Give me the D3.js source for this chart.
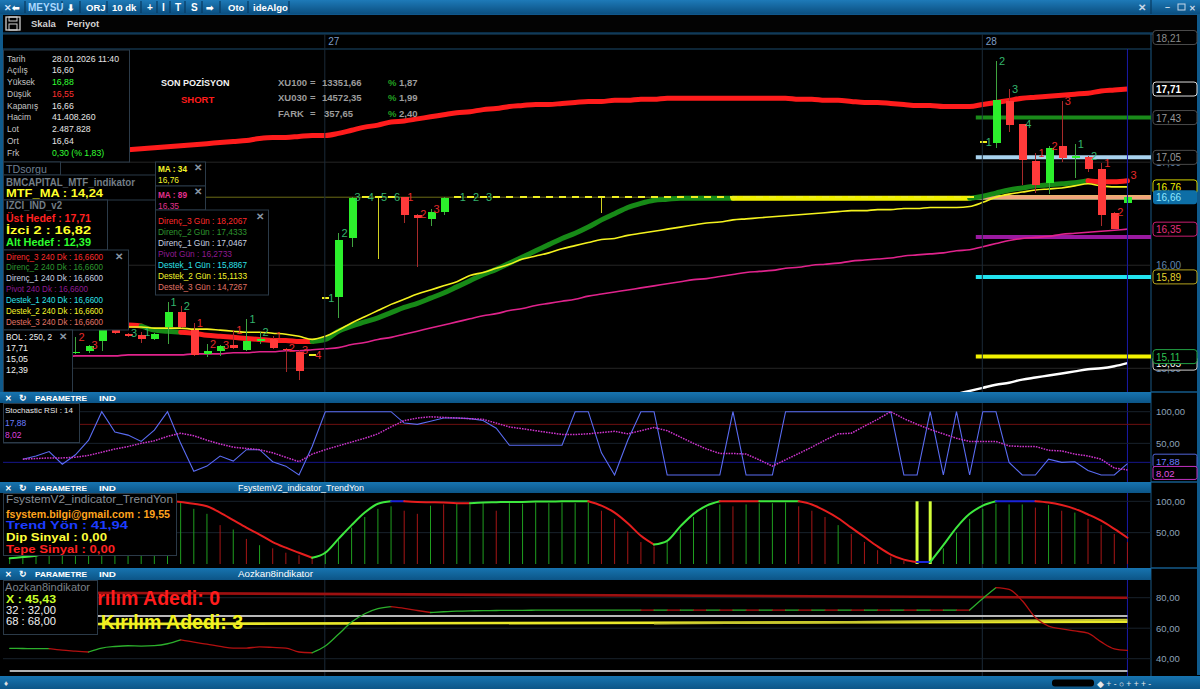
<!DOCTYPE html>
<html lang="tr">
<head>
<meta charset="utf-8">
<title>MEYSU 10 dk</title>
<script src="https://cdn.jsdelivr.net/npm/d3@7/dist/d3.min.js"></script>
<style>
  html, body { margin: 0; padding: 0; background: #000; overflow: hidden; }
  svg { display: block; }
  text { font-family: "Liberation Sans", Arial, sans-serif; }
</style>
</head>
<body>
<svg id="chart" width="1200" height="689"></svg>
<script>
// ---------------- 10 dk bars (26 Oca partial, 27 Oca, 28 Oca until 11:40) ----------------
const openP = [
  null,null,null,null,null,15.15,15.17,15.26,15.38,15.33,
  15.32,15.28,15.40,15.55,15.37,15.14,15.17,15.23,15.18,15.27,
  15.28,15.19,15.16,15.13,15.68,15.69,16.26,16.66,16.66,16.66,
  16.66,16.49,16.45,16.52,16.66,16.66,16.66,16.66,16.66,16.66,
  16.66,16.66,16.66,16.66,16.66,16.66,16.66,16.66,16.66,16.66,
  16.66,16.66,16.66,16.66,16.66,16.66,16.66,16.66,16.66,16.66,
  16.66,16.66,16.66,16.66,16.66,16.66,16.66,16.66,16.66,16.66,
  16.66,16.66,16.66,16.66,17.20,17.19,17.59,17.37,17.01,16.80,
  17.16,17.04,17.05,16.93,16.51,16.60];
const highP = [
  null,null,null,null,null,15.30,15.23,15.39,15.39,15.34,
  15.35,15.34,15.64,15.60,15.44,15.24,15.23,15.37,15.48,15.35,
  15.31,15.20,15.18,15.13,15.68,16.31,16.66,16.66,16.66,16.66,
  16.66,16.50,16.55,16.66,16.66,16.66,16.66,16.66,16.66,16.66,
  16.66,16.66,16.66,16.66,16.66,16.66,16.66,16.66,16.66,16.66,
  16.66,16.66,16.66,16.66,16.66,16.66,16.66,16.66,16.66,16.66,
  16.66,16.66,16.66,16.66,16.66,16.66,16.66,16.66,16.66,16.66,
  16.66,16.66,16.66,16.66,17.20,17.98,17.71,17.37,17.09,17.16,
  17.59,17.18,17.06,16.99,16.52,16.88];
const lowP = [
  null,null,null,null,null,15.14,15.15,15.17,15.33,15.30,
  15.25,15.27,15.24,15.39,15.12,15.11,15.12,15.19,15.17,15.24,
  15.19,14.96,14.89,15.13,15.68,15.49,16.18,16.66,16.06,16.66,
  16.41,15.98,16.38,16.49,16.66,16.66,16.66,16.66,16.66,16.66,
  16.66,16.66,16.66,16.66,16.66,16.51,16.66,16.66,16.66,16.66,
  16.66,16.66,16.66,16.66,16.66,16.66,16.66,16.66,16.66,16.66,
  16.66,16.66,16.66,16.66,16.66,16.66,16.66,16.66,16.66,16.66,
  16.66,16.66,16.66,16.66,17.20,17.14,17.29,16.78,16.70,16.69,
  17.00,16.85,16.90,16.38,16.35,16.55];
const closeP = [
  null,null,null,null,null,15.16,15.22,15.38,15.34,15.31,
  15.28,15.33,15.55,15.40,15.13,15.17,15.22,15.20,15.26,15.28,
  15.20,15.18,14.97,15.13,15.68,16.24,16.65,16.66,16.66,16.66,
  16.49,16.46,16.52,16.65,16.66,16.66,16.66,16.66,16.66,16.66,
  16.66,16.66,16.66,16.66,16.66,16.66,16.66,16.66,16.66,16.66,
  16.66,16.66,16.66,16.66,16.66,16.66,16.66,16.66,16.66,16.66,
  16.66,16.66,16.66,16.66,16.66,16.66,16.66,16.66,16.66,16.66,
  16.66,16.66,16.66,16.66,17.20,17.60,17.36,17.02,16.78,17.14,
  17.04,17.06,16.93,16.49,16.35,16.66];
const dayStarts = [24, 74];
const dayLabels = ["27", "28"];

// Bollinger (250, 2) upper band / middle band (middle enters the visible range late on the 28th)
const bolUpper = [
  17.09,17.09,17.09,17.10,17.10,17.10,17.11,17.11,17.11,17.12,
  17.13,17.14,17.15,17.16,17.17,17.18,17.19,17.20,17.21,17.23,
  17.24,17.24,17.25,17.26,17.26,17.28,17.31,17.34,17.36,17.39,
  17.40,17.42,17.44,17.46,17.48,17.49,17.51,17.52,17.54,17.55,
  17.56,17.56,17.57,17.58,17.59,17.59,17.60,17.60,17.61,17.61,
  17.62,17.62,17.62,17.62,17.62,17.62,17.62,17.62,17.62,17.62,
  17.61,17.61,17.60,17.60,17.59,17.58,17.58,17.57,17.56,17.55,
  17.55,17.54,17.54,17.54,17.56,17.58,17.60,17.62,17.63,17.64,
  17.65,17.66,17.67,17.69,17.70,17.71];
const bolMidFrom = 72;
const bolMid = [14.75,14.78,14.81,14.84,14.86,14.89,14.91,14.93,14.95,14.97,14.99,15.00,15.02,15.05];

// IZCI "Izci 2" trail and its colour runs (r = down, g = up, y = flat)
const izci = [
  15.42,15.42,15.42,15.42,15.42,15.42,15.42,15.42,15.42,15.42,
  15.41,15.37,15.36,15.35,15.34,15.32,15.31,15.30,15.29,15.28,
  15.27,15.27,15.26,15.26,15.28,15.36,15.41,15.45,15.49,15.54,
  15.59,15.63,15.68,15.73,15.79,15.85,15.91,15.96,16.02,16.08,
  16.14,16.20,16.26,16.31,16.37,16.44,16.50,16.56,16.60,16.63,
  16.64,16.65,16.65,16.65,16.65,16.65,16.65,16.65,16.65,16.65,
  16.65,16.65,16.65,16.65,16.65,16.65,16.65,16.65,16.65,16.65,
  16.65,16.65,16.65,16.65,16.67,16.70,16.73,16.75,16.77,16.78,
  16.79,16.80,16.82,16.81,16.81,16.82];
const izciRuns = [[11,"r"],[3,"g"],[10,"r"],[32,"g"],[18,"y"],[9,"g"],[3,"r"]];

// moving averages
const ma34 = [
  15.40,15.40,15.40,15.40,15.40,15.40,15.40,15.40,15.40,15.40,
  15.40,15.39,15.39,15.39,15.38,15.38,15.37,15.36,15.35,15.35,
  15.34,15.33,15.31,15.28,15.31,15.37,15.44,15.50,15.56,15.62,
  15.67,15.72,15.76,15.80,15.84,15.90,15.93,15.97,16.01,16.06,
  16.09,16.12,16.16,16.19,16.22,16.25,16.26,16.29,16.31,16.33,
  16.35,16.37,16.39,16.41,16.42,16.44,16.45,16.46,16.47,16.48,
  16.49,16.50,16.51,16.52,16.53,16.53,16.54,16.54,16.55,16.55,
  16.56,16.56,16.56,16.57,16.61,16.66,16.69,16.71,16.73,16.74,
  16.75,16.77,16.79,16.77,16.76,16.76];
const ma89 = [
  15.10,15.10,15.10,15.11,15.11,15.12,15.12,15.12,15.12,15.13,
  15.13,15.13,15.13,15.13,15.14,15.14,15.14,15.15,15.15,15.16,
  15.16,15.17,15.17,15.18,15.19,15.20,15.23,15.25,15.28,15.30,
  15.33,15.36,15.39,15.42,15.45,15.48,15.51,15.53,15.56,15.58,
  15.61,15.63,15.65,15.67,15.70,15.72,15.74,15.76,15.78,15.80,
  15.82,15.84,15.86,15.87,15.89,15.91,15.93,15.94,15.95,15.97,
  15.98,16.00,16.01,16.02,16.04,16.05,16.06,16.07,16.09,16.10,
  16.11,16.12,16.14,16.15,16.18,16.21,16.24,16.26,16.27,16.28,
  16.30,16.31,16.32,16.33,16.34,16.35];

// TD counts: bar index, digit, colour
const tdIdx = [5,6,9,10,12,13,14,15,16,17,18,19,20,21,22,23,24,25,26,27,28,29,30,31,32,34,35,36,74,75,76,77,78,79,80,81,82,83,84,85];
const tdTxt = ["2","3","3","1","1","2","1","2","3","1","1","2","1","2","3","4","1","2","3","4","5","6","1","2","3","1","2","3","1","2","3","4","1","2","3","1","2","1","2","3"];
const tdCol = ["r","r","g","g","g","g","r","r","r","r","g","g","r","r","r","r","g","g","g","g","g","g","r","r","r","g","g","g","g","g","g","g","r","r","r","g","g","r","r","r"];

// daily pivot levels (Gün) and 240 dk levels
const gunNames  = ["Direnç_3 Gün","Direnç_2 Gün","Direnç_1 Gün","Pivot Gün","Destek_1 Gün","Destek_2 Gün","Destek_3 Gün"];
const gunValues = [18.2067,17.4333,17.0467,16.2733,15.8867,15.1133,14.7267];
const dkNames   = ["Direnç_3 240 Dk","Direnç_2 240 Dk","Direnç_1 240 Dk","Pivot 240 Dk","Destek_1 240 Dk","Destek_2 240 Dk","Destek_3 240 Dk"];
const dkValues  = [16.66,16.66,16.66,16.66,16.66,16.66,16.66];

// Stochastic RSI 14
const stochK = [
  null,25,30,37,17,32,55,100,68,63,
  53,71,100,50,6,14,30,22,40,40,
  21,14,0,45,100,100,100,100,100,100,
  82,80,85,90,90,89,86,74,47,47,
  47,47,47,100,100,35,0,55,100,100,
  0,0,0,0,0,100,0,0,0,100,
  100,100,100,100,100,100,100,100,0,0,
  100,0,100,0,100,100,20,0,0,25,
  20,21,7,0,0,17.88];
const stochD = [
  null,25,26,27,27,28,31,36,41,45,
  50,54,61,66,62,55,49,44,42,40,
  35,28,21,33,40,46,52,58,65,76,
  86,90,92,91,90,89,88,82,76,73,
  70,67,64,64,65,67,69,65,70,75,
  70,60,50,41,34,34,33,24,14,24,
  34,44,55,65,66,77,88,100,89,80,
  72,65,58,53,53,53,46,45,45,39,
  38,33,30,25,11,8.02];
const stochLevels = [80, 20];

// FsystemV2 TrendYon
const trend = [
  9,11,13,20,32,46,60,72,82,90,
  95,98,100,99,96,92,82,70,58,47,
  35,26,18,10,18,40,62,82,96,100,
  100,99,98.5,98,97,97,98,98.5,99,99,
  99.5,99.5,100,100,100,93,82,65,45,31,
  37,60,80,93,100,100,100,100,100,100,
  100,95,85,73,58,43,28,15,7,3,
  3,30,58,80,93,100,100,100,100,98,
  94,88,79,69,56,41.94];
const trendRuns = [[13,"g"],[11,"r"],[6,"g"],[1,"b"],[5,"r"],[9,"g"],[5,"r"],[5,"g"],[3,"r"],[3,"g"],[9,"r"],[1,"b"],[5,"g"],[3,"b"],[7,"r"]];
const trendHist = [
  8,10,12,18,30,44,58,70,80,88,
  93,96,98,98,88,80,62,55,40,30,
  25,18,14,10,20,38,58,75,88,92,
  85,80,93,95,96,95,97,85,97,96,
  98,97,98,97,98,85,72,52,35,28,
  35,55,75,88,95,92,95,97,97,98,
  92,85,75,62,48,35,22,12,5,100,
  100,25,50,72,88,96,95,95,90,94,
  85,82,72,62,48,35];
const histRuns = [[16,"g"],[1,"r"],[1,"g"],[1,"r"],[1,"g"],[4,"r"],[6,"g"],[2,"r"],[1,"g"],[1,"r"],[3,"g"],[1,"r"],[7,"g"],[5,"r"],[5,"g"],[1,"r"],[4,"g"],[3,"r"],[1,"g"],[5,"r"],[2,"y"],[7,"g"],[1,"r"],[1,"g"],[1,"r"],[1,"g"],[4,"r"]];

// Aozkan8indikator
const aozX = [
  46.8,46.7,46.6,46.6,45.6,45.0,44.4,47.0,48.0,48.5,
  48.3,48.6,49.8,52.3,50.8,49.5,48.1,46.9,47.0,47.7,
  47.4,47.0,44.4,43.9,48.3,56.0,64.0,69.5,72.8,74.1,
  73.0,71.6,70.3,70.8,71.2,71.4,71.5,71.6,71.7,71.7,
  71.8,71.9,71.9,71.9,71.9,71.9,71.9,71.9,71.9,71.9,
  71.9,71.9,71.9,71.9,71.9,71.9,71.9,71.9,71.9,71.9,
  71.9,71.9,71.9,71.9,71.9,71.9,71.9,71.9,71.9,71.9,
  71.9,71.9,71.9,71.9,79.5,86.6,85.5,78.0,67.0,61.4,
  59.5,58.2,56.7,51.0,46.5,45.43];
const aozRuns = [[4,"g"],[3,"r"],[7,"g"],[10,"r"],[6,"g"],[3,"r"],[16,"g"],[25,"rg"],[2,"g"],[10,"r"]];
const aozUpper = [83.4, 80.0];          // first / last bar
const aozLower = [62.6, 64.3];          // first / last bar
const aozLower2From = 49;
const aozLower2 = [63.0, 65.6];
const aozBands = [68, 32];

// ---------------- geometry & scales ----------------
const PL = 3, PR = 1151;
const MAIN = {top: 49, bottom: 392};
const STO  = {top: 403, bottom: 482};
const FSY  = {top: 493, bottom: 567};
const AOZ  = {top: 580, bottom: 676};

const x  = d3.scaleLinear().domain([0, 85]).range([9.7, 1127.45]);
const y  = d3.scaleLinear().domain([14.76, 18.21]).range([393, 37.5]);
const yS = d3.scaleLinear().domain([0, 100]).range([475, 411.7]);
const yF = d3.scaleLinear().domain([0, 100]).range([564, 501.3]);
const yA = d3.scaleLinear().domain([40, 80]).range([658.7, 597.7]);

const trLocale = d3.formatLocale({decimal: ",", thousands: ".", grouping: [3], currency: ["", "₺"]});
const f2 = trLocale.format(".2f");

const svg = d3.select("#chart");
const defs = svg.append("defs");

function grad(id, c1, c2) {
  const g = defs.append("linearGradient").attr("id", id).attr("x1", 0).attr("y1", 0).attr("x2", 0).attr("y2", 1);
  g.append("stop").attr("offset", "0%").attr("stop-color", c1);
  g.append("stop").attr("offset", "100%").attr("stop-color", c2);
}
grad("gBar", "#1e7ab8", "#0b4f80");
grad("gHead", "#1774b0", "#0c5587");

function clip(id, r) {
  defs.append("clipPath").attr("id", id).append("rect")
    .attr("x", PL).attr("y", r.top).attr("width", PR - PL).attr("height", r.bottom - r.top);
}
clip("cMain", MAIN); clip("cSto", STO); clip("cFsy", FSY); clip("cAoz", AOZ);

function T(g, px, py, s, o = {}) {
  const t = g.append("text").attr("x", px).attr("y", py).text(s)
    .attr("fill", o.fill || "#dcdcdc")
    .attr("font-size", o.size || 9)
    .attr("font-weight", o.bold ? 700 : 400);
  if (o.anchor) t.attr("text-anchor", o.anchor);
  if (o.family) t.attr("font-family", o.family);
  if (o.len) t.attr("textLength", o.len).attr("lengthAdjust", "spacingAndGlyphs");
  return t;
}
function R(g, px, py, w, h, fill, stroke, sw) {
  return g.append("rect").attr("x", px).attr("y", py).attr("width", w).attr("height", h)
    .attr("fill", fill || "none").attr("stroke", stroke || "none").attr("stroke-width", sw || 1);
}
function HL(g, x1, x2, py, col, w) {
  return g.append("line").attr("x1", x1).attr("x2", x2).attr("y1", py).attr("y2", py)
    .attr("stroke", col).attr("stroke-width", w || 1);
}
function VL(g, px, y1, y2, col, w) {
  return g.append("line").attr("x1", px).attr("x2", px).attr("y1", y1).attr("y2", y2)
    .attr("stroke", col).attr("stroke-width", w || 1);
}
function expandRuns(runs) {
  const out = [];
  runs.forEach(([n, pat]) => { for (let k = 0; k < n; k++) out.push(pat[k % pat.length]); });
  return out;
}
// draws a series whose segment i-1 -> i takes the colour code of bar i
function colouredLine(g, vals, codes, palette, ys, width, curve) {
  const line = d3.line().x(d => x(d[0])).y(d => ys(d[1])).curve(curve || d3.curveLinear);
  let start = 1;
  for (let i = 2; i <= vals.length; i++) {
    if (i === vals.length || codes[i] !== codes[start]) {
      const pts = d3.range(start - 1, i).map(k => [k, vals[k]]);
      g.append("path").attr("d", line(pts)).attr("fill", "none")
        .attr("stroke", palette[codes[start]]).attr("stroke-width", width)
        .attr("stroke-linejoin", "round").attr("stroke-linecap", "round");
      start = i;
    }
  }
}
function closeMark(g, px, py) { T(g, px, py, "✕", {fill: "#8896a4", size: 10, bold: true, family: "DejaVu Sans"}); }

// ---------------- background & frame ----------------
R(svg, 0, 0, 1200, 689, "#000");

// toolbar
R(svg, 0, 0, 1200, 14, "url(#gBar)");
const tb = svg.append("g");
[25, 62, 80, 107, 141, 157, 170, 185, 202, 220, 248, 289].forEach(sx => VL(tb, sx, 1, 13, "#073a60", 1.2));
const tbItems = [
  ["✕", 4, "#cfe6ff", 9], ["⬅", 12, "#ffffff", 9], ["MEYSU", 28, "#a9d8ff", 10],
  ["⬇", 67, "#ffffff", 9], ["ORJ", 86, "#ffffff", 9.5], ["10 dk", 112, "#ffffff", 9.5],
  ["+", 147, "#ffffff", 10], ["I", 162, "#ffffff", 10], ["T", 175, "#ffffff", 10],
  ["S", 191, "#ffffff", 10], ["➡", 206, "#ffffff", 9], ["Oto", 228, "#ffffff", 9.5], ["ideAlgo", 253, "#ffffff", 9.5]
];
tbItems.forEach(([s, px, c, fs]) => T(tb, px, 11, s, {fill: c, size: fs, bold: true, family: "DejaVu Sans, Liberation Sans"}));
VL(tb, 1151, 0, 14, "#073a60", 1.2);
T(tb, 1138, 11, "✕", {fill: "#c8d8e8", size: 10, bold: true, family: "DejaVu Sans"});
T(tb, 1165, 10, "–", {fill: "#c8d8e8", size: 9, bold: true});
R(tb, 1178, 4, 7, 6, "none", "#c8d8e8", 1);
T(tb, 1189, 11, "✕", {fill: "#c8d8e8", size: 8, bold: true, family: "DejaVu Sans"});

// second row
R(svg, 1.5, 14.5, 1197, 18.5, "#030303", "#10568a", 1);
const r2 = svg.append("g");
R(r2, 6, 17, 14, 13, "none", "#cfcfcf", 1.3);
R(r2, 9, 17, 8, 4, "none", "#cfcfcf", 1);
R(r2, 9, 24, 8, 6, "none", "#cfcfcf", 1);
T(r2, 31, 27, "Skala", {fill: "#d2d2d2", size: 9.5, bold: true});
T(r2, 67, 27, "Periyot", {fill: "#d2d2d2", size: 9.5, bold: true});

// outer borders
R(svg, 0, 14, 3, MAIN.bottom - 14, "#0f5a8c");
R(svg, 1197, 14, 3, 675 - 14, "#0f5a8c");

// date strip
HL(svg, PL, 1197, 34, "#1a4a6c");
HL(svg, PL, PR, 49, "#1a4a6c");
dayStarts.forEach((d, k) => T(svg, x(d) + 3, 45, dayLabels[k], {fill: "#7d9cc6", size: 10}));

// right axis column separator
VL(svg, PR, 34, 676, "#174a70", 1.2);

// ---------------- main price panel ----------------
const gM = svg.append("g").attr("clip-path", "url(#cMain)");

// horizontal grid from the price ticks
[15, 16, 17].forEach(v => HL(gM, PL, PR, y(v), "#262626"));
// day separators
dayStarts.forEach(d => VL(svg, x(d) - 0.5, 34, AOZ.bottom, "#1b2a38"));
// last-price guide
HL(gM, PL, PR, y(closeP[closeP.length - 1]), "#6c6c16");

// pivot levels of the current day
const levelFrom = x(dayStarts[1]) - 7;
const gunColors = ["#ff2a2a", "#1a8a1a", "#a8d2ee", "#9a1aa0", "#22e4f0", "#f2f200", "#f0a078"];
const dkColors  = ["#ff2a2a", "#1a8a1a", "#a8d2ee", "#9a1aa0", "#22e4f0", "#f2f200", "#f2a47c"];
dkValues.forEach((v, k) => HL(gM, levelFrom, PR, y(v), dkColors[k], 4));
gunValues.forEach((v, k) => HL(gM, levelFrom, PR, y(v), gunColors[k], 4));

// Bollinger upper (Üst Hedef) and middle band
const lineP = ys => d3.line().defined(d => d[1] != null).x(d => x(d[0])).y(d => ys(d[1])).curve(d3.curveMonotoneX);
gM.append("path").attr("d", lineP(y)(bolUpper.map((v, i) => [i, v])))
  .attr("fill", "none").attr("stroke", "#ff1c1c").attr("stroke-width", 5);
gM.append("path").attr("d", lineP(y)(bolMid.map((v, k) => [bolMidFrom + k, v])))
  .attr("fill", "none").attr("stroke", "#ffffff").attr("stroke-width", 2.5);
// MA 89
gM.append("path").attr("d", lineP(y)(ma89.map((v, i) => [i, v])))
  .attr("fill", "none").attr("stroke", "#e0238c").attr("stroke-width", 1.6);
// İzci trail
colouredLine(gM, izci, expandRuns(izciRuns), {r: "#ff2020", g: "#178a17", y: "#f0f000"}, y, 5, d3.curveMonotoneX);
// MA 34
gM.append("path").attr("d", lineP(y)(ma34.map((v, i) => [i, v])))
  .attr("fill", "none").attr("stroke", "#f4f21e").attr("stroke-width", 1.6);

// candles
const gC = gM.append("g").attr("shape-rendering", "crispEdges");
d3.range(openP.length).filter(i => openP[i] != null).forEach(i => {
  const o = openP[i], h = highP[i], l = lowP[i], c = closeP[i];
  const flat = o === c, up = c > o, cx = Math.round(x(i));
  if (h !== l) VL(gC, cx + 0.5, y(h), y(l), flat ? "#d0d020" : up ? "#3fa43f" : "#a82a2a", 1);
  if (flat) R(gC, cx - 3, y(o) - 1, 7, 2, "#eeee22");
  else R(gC, cx - 3.5, y(Math.max(o, c)), 8, Math.max(1.5, Math.abs(y(o) - y(c))), up ? "#2cf02c" : "#ff3a3a");
});
// TD counts
tdIdx.forEach((i, k) => T(gM, x(i) + 3, y(highP[i]) + 4, tdTxt[k],
  {fill: tdCol[k] === "g" ? "#33b46c" : "#e42a2a", size: 11, family: "DejaVu Sans"}));

// cursor line (last bar)
VL(svg, x(85), MAIN.top, AOZ.bottom, "#1a1aa8", 1);

// ---- legend boxes on the price panel ----
const gL = svg.append("g");
const boxStroke = "#2b3a48";
// info box
R(gL, 3.5, 50, 126, 112, "#000", boxStroke);
const info = [
  ["Tarih", "28.01.2026 11:40", "#e4e4e4"], ["Açılış", "16,60", "#e4e4e4"], ["Yüksek", "16,88", "#33ff33"],
  ["Düşük", "16,55", "#ff3030"], ["Kapanış", "16,66", "#e4e4e4"], ["Hacim", "41.408.260", "#e4e4e4"],
  ["Lot", "2.487.828", "#e4e4e4"], ["Ort", "16,64", "#e4e4e4"], ["Frk", "0,30 (% 1,83)", "#33ff33"]
];
info.forEach((r, k) => {
  const by = 61.5 + k * 11.75;
  T(gL, 7, by, r[0], {fill: "#c4c4c4", size: 8.5});
  T(gL, 52, by, r[1], {fill: r[2], size: 8.7});
});
// position panel
T(gL, 161, 85.5, "SON POZİSYON", {fill: "#f4f4f4", size: 9, bold: true});
T(gL, 181, 102.5, "SHORT", {fill: "#ff1c1c", size: 9.5, bold: true});
const idx = [["XU100", "13351,66", "1,87"], ["XU030", "14572,35", "1,99"], ["FARK", "357,65", "2,40"]];
idx.forEach((r, k) => {
  const by = 86 + k * 15.3;
  T(gL, 278, by, r[0], {fill: "#9c9c9c", size: 9.5, bold: true});
  T(gL, 310, by, "=", {fill: "#9c9c9c", size: 9.5, bold: true});
  T(gL, k === 2 ? 324 : 322, by, r[1], {fill: "#9c9c9c", size: 9.5, bold: true});
  T(gL, 388, by, "%", {fill: "#22a022", size: 9.5, bold: true});
  T(gL, 399, by, r[2], {fill: "#9c9c9c", size: 9.5, bold: true});
});
// TDsorgu
R(gL, 3.5, 162, 57, 13, "#000", boxStroke);
T(gL, 6, 172.5, "TDsorgu", {fill: "#6c7f92", size: 11, len: 41});
// MTF
R(gL, 3.5, 175, 152, 25, "#000", boxStroke);
T(gL, 6, 185.5, "BMCAPITAL_MTF_indikator", {fill: "#727d86", size: 10.5, bold: true, len: 129});
T(gL, 6, 197, "MTF_MA :  14,24", {fill: "#ffff2a", size: 10.5, bold: true, len: 97});
// IZCI
R(gL, 3.5, 200, 104, 50, "#000", boxStroke);
T(gL, 6, 209, "IZCI_IND_v2", {fill: "#727d86", size: 10.5, bold: true, len: 56});
T(gL, 6, 222, "Üst Hedef :  17,71", {fill: "#ff2020", size: 10.5, bold: true, len: 85});
T(gL, 6, 234, "İzci 2 :  16,82", {fill: "#ffff2a", size: 10.5, bold: true, len: 85});
T(gL, 6, 245.5, "Alt Hedef :  12,39", {fill: "#2eff2e", size: 10.5, bold: true, len: 85});
// 240 dk levels
R(gL, 3.5, 250, 125, 80, "#000", boxStroke);
closeMark(gL, 115, 260);
const dkText = ["#ff2a2a", "#2e962e", "#c8d2e2", "#8e1a92", "#2ee2ea", "#f4f42a", "#e07466"];
dkNames.forEach((n, k) => {
  const s = `${n} :  ${trLocale.format(".4f")(dkValues[k])}`;
  T(gL, 6, 259.5 + k * 10.9, s, {fill: dkText[k], size: 8.6, len: k === 3 ? 82 : 97});
});
// MA boxes
R(gL, 155.5, 162, 50, 24, "#000", boxStroke);
closeMark(gL, 194, 171);
T(gL, 158, 171.5, "MA : 34", {fill: "#f4f42a", size: 9, bold: true, len: 29});
T(gL, 158, 183, f2(ma34[85]), {fill: "#f4f42a", size: 9, len: 21});
R(gL, 155.5, 186, 50, 24, "#000", boxStroke);
closeMark(gL, 194, 195);
T(gL, 158, 197.5, "MA : 89", {fill: "#e2308e", size: 9, bold: true, len: 29});
T(gL, 158, 208.5, f2(ma89[85]), {fill: "#e2308e", size: 9, len: 21});
// daily levels
R(gL, 155.5, 210, 113, 85, "#000", boxStroke);
closeMark(gL, 256, 220);
gunNames.forEach((n, k) => {
  const s = `${n} :  ${trLocale.format(".4f")(gunValues[k])}`;
  T(gL, 158, 224.2 + k * 10.95, s, {fill: dkText[k], size: 8.6, len: k === 3 ? 74 : 89});
});
// BOL
R(gL, 3.5, 330, 69, 62, "#000", boxStroke);
closeMark(gL, 59, 340);
T(gL, 6, 340, "BOL : 250, 2", {fill: "#f0f0f0", size: 8.8, len: 46});
["17,71", "15,05", "12,39"].forEach((s, k) => T(gL, 6, 350.7 + k * 11, s, {fill: "#f0f0f0", size: 8.8}));

// ---- price axis ----
const axG = svg.append("g").attr("transform", `translate(${PR + 2},0)`)
  .call(d3.axisRight(y).tickValues([15, 16, 17]).tickSize(0).tickPadding(3).tickFormat(f2));
axG.select(".domain").remove();
axG.selectAll("text").attr("fill", "#5f84ae").attr("font-size", 10).attr("font-family", "Liberation Sans, Arial");
function tag(g, v, txt, o) {
  const py = y(v);
  g.append("rect").attr("x", 1153).attr("y", py - 7).attr("width", 44).attr("height", 14).attr("rx", 3)
    .attr("fill", o.bg || "#000").attr("stroke", o.stroke || "none").attr("stroke-width", 1);
  T(g, 1156, py + 4, txt, {fill: o.color, size: 10, bold: !!o.bold});
}
const gT = svg.append("g");
tag(gT, 18.21, "18,21", {stroke: "#4a4a4a", color: "#8c8c8c"});
tag(gT, bolUpper[85], f2(bolUpper[85]), {stroke: "#dadada", color: "#ffffff", bold: true});
tag(gT, 17.4333, "17,43", {stroke: "#4a4a4a", color: "#9a9a9a"});
tag(gT, 17.0467, "17,05", {stroke: "#4a4a4a", color: "#9a9a9a"});
tag(gT, ma34[85], f2(ma34[85]), {stroke: "#d2d200", color: "#f4f400"});
tag(gT, closeP[85], f2(closeP[85]), {bg: "#0d6ea6", color: "#8fe8ff"});
tag(gT, ma89[85], f2(ma89[85]), {stroke: "#c81e70", color: "#e4307e"});
tag(gT, 15.8867, "15,89", {stroke: "#b4a41e", color: "#e4d42c"});
tag(gT, bolMid[bolMid.length - 1], f2(bolMid[bolMid.length - 1]), {stroke: "#cccccc", color: "#ffffff"});
tag(gT, 15.1133, "15,11", {stroke: "#22a044", color: "#2ec452"});

// ---------------- sub-panel headers ----------------
function header(py, h, title) {
  R(svg, 0, py, PR, h, "url(#gHead)");
  HL(svg, PR, 1197, py, "#145a8a", 1.5);
  const by = py + h / 2 + 3;
  T(svg, 5, by, "✕", {fill: "#ffffff", size: 8, bold: true, family: "DejaVu Sans"});
  T(svg, 19, by, "↻", {fill: "#ffffff", size: 9, bold: true, family: "DejaVu Sans"});
  T(svg, 35, by, "PARAMETRE", {fill: "#ffffff", size: 8, bold: true, len: 52});
  T(svg, 99, by, "IND", {fill: "#ffffff", size: 8, bold: true, len: 17});
  if (title) T(svg, 238, by, title.s, {fill: "#ffffff", size: 8.5, len: title.w});
}
header(392, 11, null);
header(482, 11, {s: "FsystemV2_indicator_TrendYon", w: 126});
header(568, 12, {s: "Aozkan8indikator", w: 75});

function rightTicks(ys, vals, fmt) {
  const g = svg.append("g").attr("transform", `translate(${PR + 2},0)`)
    .call(d3.axisRight(ys).tickValues(vals).tickSize(0).tickPadding(3).tickFormat(fmt));
  g.select(".domain").remove();
  g.selectAll("text").attr("fill", "#8ca2b8").attr("font-size", 9.5).attr("font-family", "Liberation Sans, Arial");
}

// ---------------- Stochastic RSI ----------------
const gS = svg.append("g").attr("clip-path", "url(#cSto)");
[100, 50].forEach(v => HL(gS, PL, PR, yS(v), "#18222c"));
HL(gS, PL, PR, yS(stochLevels[0]), "#6e1010");
HL(gS, PL, PR, yS(stochLevels[1]), "#16168c");
const lineS = d3.line().defined(d => d[1] != null).x(d => x(d[0])).y(d => yS(d[1]));
gS.append("path").attr("d", lineS(stochK.map((v, i) => [i, v])))
  .attr("fill", "none").attr("stroke", "#5a6cf2").attr("stroke-width", 1.1);
gS.append("path").attr("d", lineS(stochD.map((v, i) => [i, v])))
  .attr("fill", "none").attr("stroke", "#cc34cc").attr("stroke-width", 1.5).attr("stroke-dasharray", "1.6 1.1");
R(svg, 3.5, 403.5, 76, 39, "#000", boxStroke);
T(svg, 5, 413, "Stochastic RSI : 14", {fill: "#e8e8e8", size: 8, len: 68});
T(svg, 5, 426, f2(stochK[85]), {fill: "#6a7cff", size: 8.5});
T(svg, 5, 438, f2(stochD[85]), {fill: "#de40de", size: 8.5});
rightTicks(yS, [100, 50], f2);
[[stochK[85], "#5064d8", "#6c7eff", -3], [stochD[85], "#c030c0", "#e050e0", 3]].forEach(([v, st, col, dy]) => {
  const py = yS(v) + dy;
  svg.append("rect").attr("x", 1153).attr("y", py - 6.5).attr("width", 44).attr("height", 13).attr("rx", 2)
    .attr("fill", "#000").attr("stroke", st);
  T(svg, 1156, py + 4, f2(v), {fill: col, size: 9.5});
});

// ---------------- FsystemV2 TrendYon ----------------
const gF = svg.append("g").attr("clip-path", "url(#cFsy)");
[100, 50].forEach(v => HL(gF, PL, PR, yF(v), "#18222c"));
const histCodes = expandRuns(histRuns);
trendHist.forEach((v, i) => {
  const c = histCodes[i];
  VL(gF, x(i), yF(0), yF(v), c === "y" ? "#d4ff3a" : c === "g" ? "#1f9e1f" : "#a51616", c === "y" ? 3 : 1);
});
colouredLine(gF, trend, expandRuns(trendRuns), {g: "#3ee83e", r: "#e61e1e", b: "#1a24d8"}, yF, 2, d3.curveMonotoneX);
R(svg, 3.5, 493.5, 173, 62, "#000", boxStroke);
T(svg, 6, 502.5, "FsystemV2_indicator_TrendYon", {fill: "#878e96", size: 10.5, len: 167});
T(svg, 6, 517.5, "fsystem.bilgi@gmail.com :  19,55", {fill: "#ffa41e", size: 10.6, bold: true, len: 164});
T(svg, 6, 529, `Trend Yön :  ${f2(trend[85])}`, {fill: "#1c3cff", size: 10.6, bold: true, len: 122});
T(svg, 6, 541, "Dip Sinyal :  0,00", {fill: "#ffff3a", size: 10.6, bold: true, len: 101});
T(svg, 6, 552.5, "Tepe Sinyal :  0,00", {fill: "#ff2020", size: 10.6, bold: true, len: 109});
rightTicks(yF, [100, 50], f2);

// ---------------- Aozkan8indikator ----------------
const gA = svg.append("g").attr("clip-path", "url(#cAoz)");
[80, 60, 40].forEach(v => HL(gA, PL, PR, yA(v), "#18222c"));
const seg = (g, i0, i1, v0, v1, col, w) => g.append("line")
  .attr("x1", x(i0)).attr("x2", x(i1)).attr("y1", yA(v0)).attr("y2", yA(v1)).attr("stroke", col).attr("stroke-width", w);
seg(gA, 0, 85, aozUpper[0], aozUpper[1], "#9c1010", 2.6);
seg(gA, 0, 85, aozBands[0], aozBands[0], "#b8b8b8", 2);
seg(gA, 0, 85, aozLower[0], aozLower[1], "#e8e82a", 2.6);
seg(gA, aozLower2From, 85, aozLower2[0], aozLower2[1], "#c6c630", 2);
seg(gA, 0, 85, aozBands[1], aozBands[1], "#b0b0b0", 2);
colouredLine(gA, aozX, expandRuns(aozRuns), {g: "#2cb02c", r: "#b31010"}, yA, 1.3, d3.curveMonotoneX);
T(gA, 220, 605, "Kırılım Adedi: 0", {fill: "#ff1c1c", size: 19.5, bold: true, anchor: "end"});
T(gA, 243, 628.5, "Kırılım Adedi: 3", {fill: "#f2f21e", size: 19.5, bold: true, anchor: "end"});
R(svg, 3.5, 580.5, 94, 54, "#000", boxStroke);
T(svg, 5, 590.5, "Aozkan8indikator", {fill: "#7a8089", size: 11, len: 85});
T(svg, 6, 602.5, `X :  ${f2(aozX[85])}`, {fill: "#c8ff2a", size: 10.5, bold: true, len: 50});
T(svg, 6, 613.5, `32 :  ${f2(32)}`, {fill: "#f0f0f0", size: 10.5, len: 50});
T(svg, 6, 625, `68 :  ${f2(68)}`, {fill: "#f0f0f0", size: 10.5, len: 50});
rightTicks(yA, [80, 60, 40], f2);

// ---------------- status bar ----------------
R(svg, 0, 676, 1200, 13, "url(#gHead)");
T(svg, 4, 686, "♦", {fill: "#e0e0e0", size: 8, family: "DejaVu Sans"});
svg.append("rect").attr("x", 1052).attr("y", 679.5).attr("width", 42).attr("height", 7).attr("rx", 3).attr("fill", "#000");
T(svg, 1097, 686.5, "◆  + - ○ + + + -", {fill: "#e8e8e8", size: 8.5, family: "DejaVu Sans"});
</script>
</body>
</html>
